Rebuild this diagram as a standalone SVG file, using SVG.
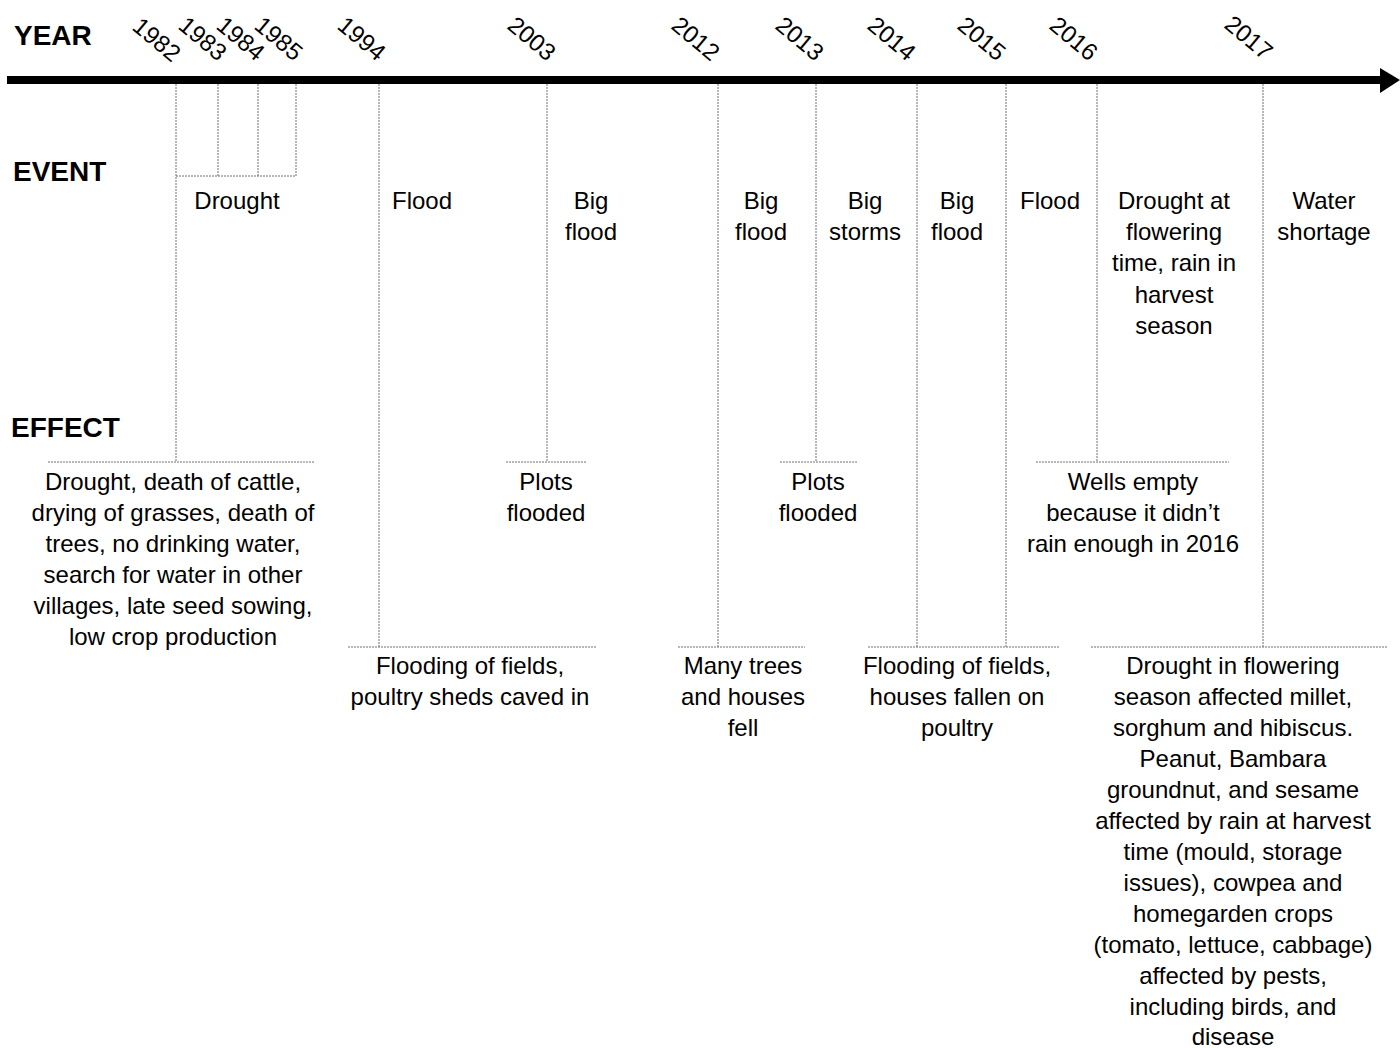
<svg xmlns="http://www.w3.org/2000/svg" width="1400" height="1048" viewBox="0 0 1400 1048">
<style>
.h{font-family:"Liberation Sans",Arial,sans-serif;font-weight:bold;font-size:28px;fill:#000}
.y{font-family:"Liberation Sans",Arial,sans-serif;font-size:24px;fill:#000;text-anchor:end}
.t{font-family:"Liberation Sans",Arial,sans-serif;font-size:24px;fill:#000;text-anchor:middle}
.d{stroke:#707070;stroke-width:1;stroke-dasharray:2 1;fill:none}
</style>
<rect width="1400" height="1048" fill="#fff"/>
<g id="axis">
<line x1="7" y1="80" x2="1382" y2="80" stroke="#000" stroke-width="8"/>
<polygon points="1380,68 1400,80 1380,93" fill="#000"/>
</g>
<g id="headers">
<text class="h" x="14" y="45">YEAR</text>
<text class="h" x="13" y="181">EVENT</text>
<text class="h" x="11" y="437">EFFECT</text>
</g>
<g id="years">
<text class="y" transform="translate(172,63) rotate(40)">1982</text>
<text class="y" transform="translate(218,62) rotate(40)">1983</text>
<text class="y" transform="translate(256,62) rotate(40)">1984</text>
<text class="y" transform="translate(294,62) rotate(40)">1985</text>
<text class="y" transform="translate(377,62) rotate(40)">1994</text>
<text class="y" transform="translate(547,62) rotate(40)">2003</text>
<text class="y" transform="translate(711,62) rotate(40)">2012</text>
<text class="y" transform="translate(815,62) rotate(40)">2013</text>
<text class="y" transform="translate(907,62) rotate(40)">2014</text>
<text class="y" transform="translate(997,62) rotate(40)">2015</text>
<text class="y" transform="translate(1089,62) rotate(40)">2016</text>
<text class="y" transform="translate(1264,61) rotate(40)">2017</text>
</g>
<g id="connectors">
<path class="d" d="M176,84V462 M218,84V176 M258,84V176 M296,84V176 M176,176H296"/>
<path class="d" d="M48,462H314"/>
<path class="d" d="M379,84V647 M348,647H596"/>
<path class="d" d="M547,84V462 M506,462H586"/>
<path class="d" d="M718,84V647 M678,647H805"/>
<path class="d" d="M816,84V462 M780,462H858"/>
<path class="d" d="M917,84V647 M1006,84V647 M868,647H1060"/>
<path class="d" d="M1097,84V462 M1036,462H1229"/>
<path class="d" d="M1263,84V647 M1091,647H1387"/>
</g>
<g id="event-1982">
<text class="t" x="237" y="209">Drought</text>
</g>
<g id="event-1994">
<text class="t" x="422" y="209">Flood</text>
</g>
<g id="event-2003">
<text class="t" x="591" y="209">Big</text>
<text class="t" x="591" y="240">flood</text>
</g>
<g id="event-2012">
<text class="t" x="761" y="209">Big</text>
<text class="t" x="761" y="240">flood</text>
</g>
<g id="event-2013">
<text class="t" x="865" y="209">Big</text>
<text class="t" x="865" y="240">storms</text>
</g>
<g id="event-2014">
<text class="t" x="957" y="209">Big</text>
<text class="t" x="957" y="240">flood</text>
</g>
<g id="event-2015">
<text class="t" x="1050" y="209">Flood</text>
</g>
<g id="event-2016">
<text class="t" x="1174" y="209">Drought at</text>
<text class="t" x="1174" y="240">flowering</text>
<text class="t" x="1174" y="271">time, rain in</text>
<text class="t" x="1174" y="303">harvest</text>
<text class="t" x="1174" y="334">season</text>
</g>
<g id="event-2017">
<text class="t" x="1324" y="209">Water</text>
<text class="t" x="1324" y="240">shortage</text>
</g>
<g id="effect-1982">
<text class="t" x="173" y="490">Drought, death of cattle,</text>
<text class="t" x="173" y="521">drying of grasses, death of</text>
<text class="t" x="173" y="552">trees, no drinking water,</text>
<text class="t" x="173" y="583">search for water in other</text>
<text class="t" x="173" y="614">villages, late seed sowing,</text>
<text class="t" x="173" y="645">low crop production</text>
</g>
<g id="effect-2003">
<text class="t" x="546" y="490">Plots</text>
<text class="t" x="546" y="521">flooded</text>
</g>
<g id="effect-2013">
<text class="t" x="818" y="490">Plots</text>
<text class="t" x="818" y="521">flooded</text>
</g>
<g id="effect-2016">
<text class="t" x="1133" y="490">Wells empty</text>
<text class="t" x="1133" y="521">because it didn’t</text>
<text class="t" x="1133" y="552">rain enough in 2016</text>
</g>
<g id="effect-1994">
<text class="t" x="470" y="674">Flooding of fields,</text>
<text class="t" x="470" y="705">poultry sheds caved in</text>
</g>
<g id="effect-2012">
<text class="t" x="743" y="674">Many trees</text>
<text class="t" x="743" y="705">and houses</text>
<text class="t" x="743" y="736">fell</text>
</g>
<g id="effect-2014">
<text class="t" x="957" y="674">Flooding of fields,</text>
<text class="t" x="957" y="705">houses fallen on</text>
<text class="t" x="957" y="736">poultry</text>
</g>
<g id="effect-2017">
<text class="t" x="1233" y="674">Drought in flowering</text>
<text class="t" x="1233" y="705">season affected millet,</text>
<text class="t" x="1233" y="736">sorghum and hibiscus.</text>
<text class="t" x="1233" y="767">Peanut, Bambara</text>
<text class="t" x="1233" y="798">groundnut, and sesame</text>
<text class="t" x="1233" y="829">affected by rain at harvest</text>
<text class="t" x="1233" y="860">time (mould, storage</text>
<text class="t" x="1233" y="891">issues), cowpea and</text>
<text class="t" x="1233" y="922">homegarden crops</text>
<text class="t" x="1233" y="953">(tomato, lettuce, cabbage)</text>
<text class="t" x="1233" y="984">affected by pests,</text>
<text class="t" x="1233" y="1015">including birds, and</text>
<text class="t" x="1233" y="1045">disease</text>
</g>
</svg>
